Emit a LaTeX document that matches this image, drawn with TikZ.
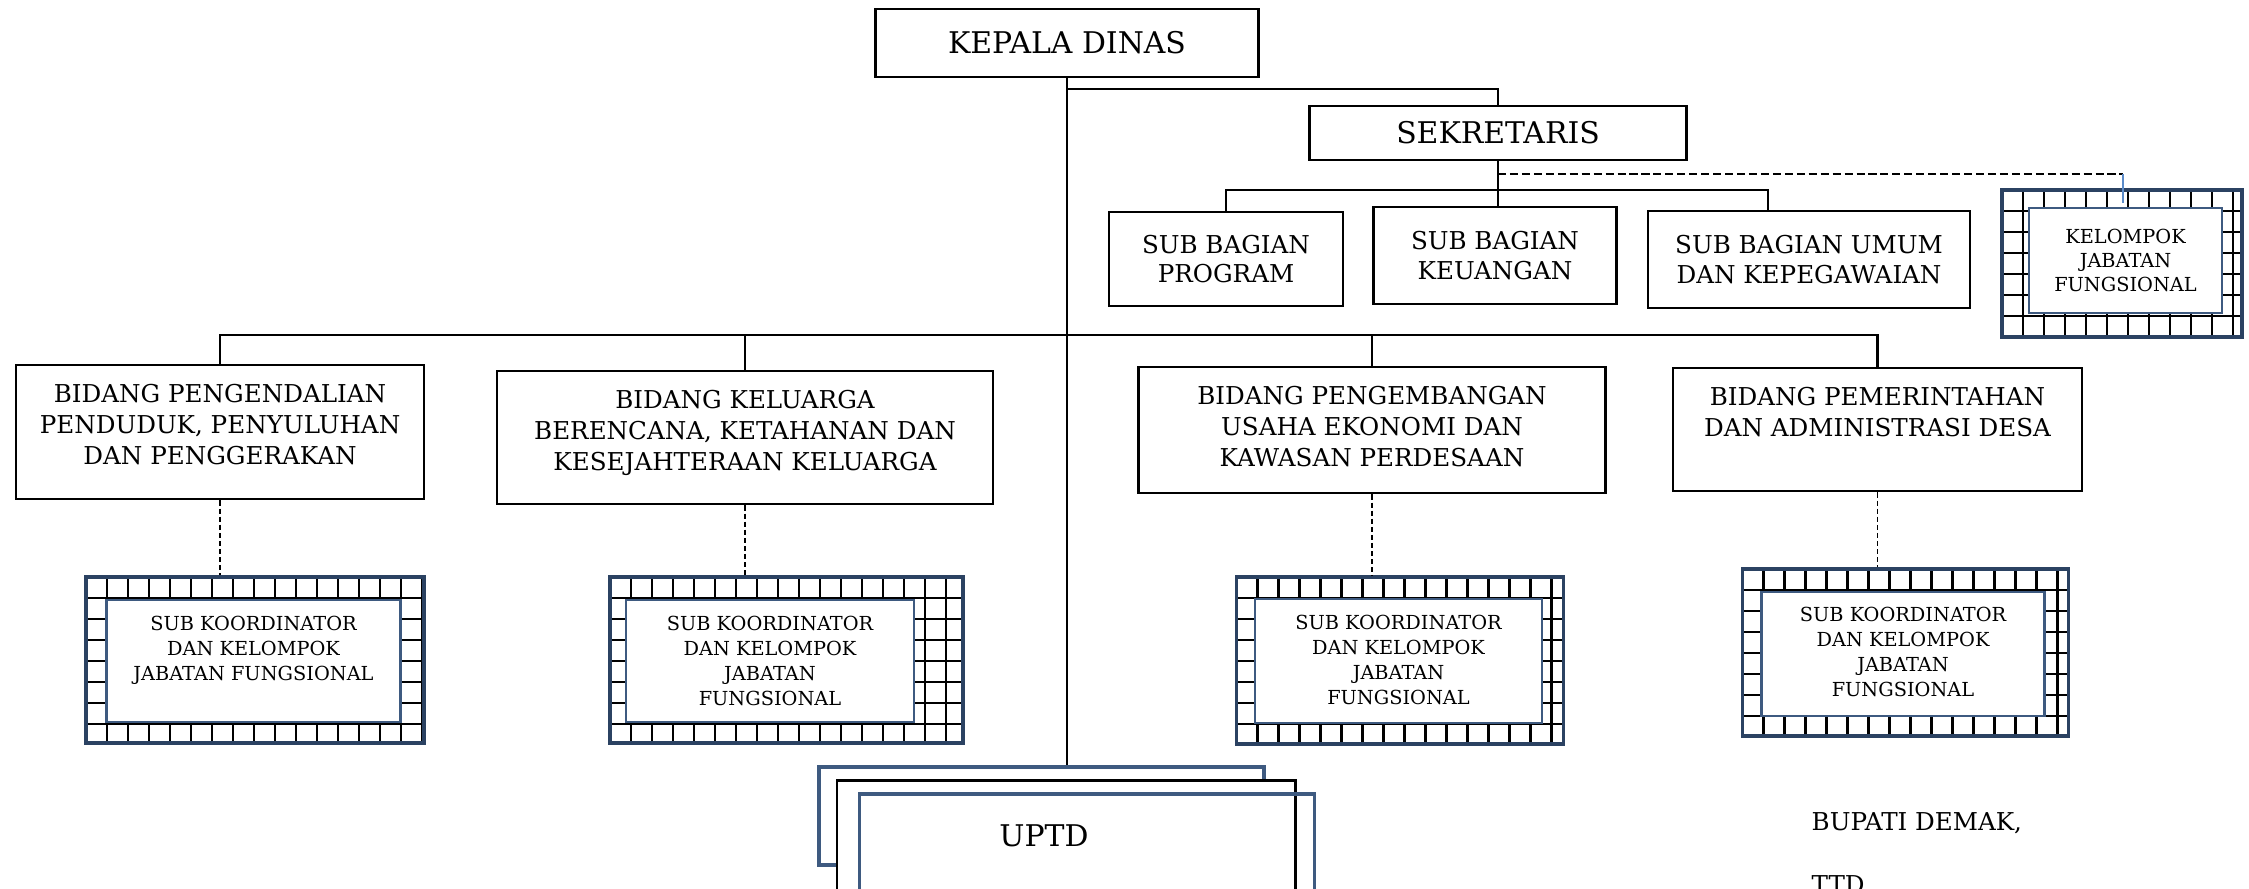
\documentclass[tikz,border=0pt]{standalone}
\usepackage{fontspec}
\setmainfont{DejaVu Serif}
\usepackage{tikz}
\usetikzlibrary{positioning}
\definecolor{gridnavy}{HTML}{2B4262}
\definecolor{framenavy}{HTML}{3E5A80}
\definecolor{linkblue}{HTML}{5B8BC9}

\begin{document}
\begin{tikzpicture}[
    box/.style={draw, line width=0.8pt, inner sep=0pt, align=center},
    headbox/.style={box, font=\fontsize{8.5}{10}\selectfont},
    subbox/.style={box, font=\fontsize{7}{8.3}\selectfont},
    bidtext/.style={inner sep=0pt, align=center, font=\fontsize{7}{8.8}\selectfont},
    gridbox/.style={draw=gridnavy, line width=0.9pt, path picture={
        \foreach \k in {1,...,20} {
            \draw[black, line width=0.7pt] ([xshift=\k*0.21cm]path picture bounding box.north west) -- ++(0,-3);
            \draw[black, line width=0.7pt] ([yshift=-\k*0.21cm]path picture bounding box.north west) -- ++(4,0);
        }}},
    innerbox/.style={draw=framenavy, line width=0.8pt, fill=white},
    kootext/.style={inner sep=0pt, align=center, font=\fontsize{5.5}{7.1}\selectfont},
    link/.style={line width=0.6pt},
    dotlink/.style={line width=0.45pt, dash pattern=on 1.5pt off 0.8pt}
]

% Page frame
\useasboundingbox (0,0) rectangle (22.49,-8.88);

% Kepala Dinas and Sekretaris
\node[headbox, minimum width=3.83cm, minimum height=0.68cm] (kepala) at (10.67,-0.43) {KEPALA DINAS};
\node[headbox, minimum width=3.77cm, minimum height=0.54cm] (sek) at (14.98,-1.33) {SEKRETARIS};

\coordinate (sekbus) at ([yshift=-0.11cm]kepala.south);
\draw[link] (sekbus) -- (sekbus -| sek.north) -- (sek.north);

% Sub bagian under Sekretaris
\node[subbox, minimum width=2.34cm, minimum height=0.94cm] (sbprog) at (12.26,-2.59) {SUB BAGIAN\\PROGRAM};
\node[subbox, minimum width=2.43cm, minimum height=0.97cm] (sbkeu) at (14.95,-2.555) {SUB BAGIAN\\KEUANGAN};
\node[subbox, minimum width=3.22cm, minimum height=0.97cm] (sbumum) at (18.09,-2.595) {SUB BAGIAN UMUM\\DAN KEPEGAWAIAN};

\coordinate (sbbus) at ([yshift=-0.29cm]sek.south);
\coordinate (umumdrop) at ([xshift=-0.41cm]sbumum.north);
\draw[link] (sek.south) -- (sek.south |- sbkeu.north);
\draw[link] (sbprog.north) -- (sbprog.north |- sbbus) -- (sbbus -| umumdrop) -- (umumdrop);

% Kelompok jabatan fungsional
\node[gridbox, minimum width=2.40cm, minimum height=1.47cm] (kjf) at (21.22,-2.635) {};
\coordinate (kjfbus) at ([yshift=-0.13cm]sek.south);
\draw[line width=0.6pt, dash pattern=on 2.3pt off 1.1pt] (kjfbus) -- (kjfbus -| 21.23,0);
\draw[linkblue, line width=0.7pt] (kjfbus -| 21.23,0) -- (21.23,-2.03);
\node[innerbox, minimum width=1.93cm, minimum height=1.05cm] (kjfin) at (21.255,-2.605) {};
\node[kootext, font=\fontsize{5.5}{6.8}\selectfont] (kjftext) at (kjfin) {KELOMPOK\\JABATAN\\FUNGSIONAL};

% Bidang row
\node[box, minimum width=4.08cm, minimum height=1.34cm] (bid1) at (2.20,-4.32) {};
\node[box, minimum width=4.96cm, minimum height=1.33cm] (bid2) at (7.45,-4.375) {};
\node[box, minimum width=4.675cm, minimum height=1.26cm] (bid3) at (13.72,-4.30) {};
\node[box, minimum width=4.09cm, minimum height=1.23cm] (bid4) at (18.775,-4.295) {};

\node[bidtext, below=0.20cm of bid1.north] (bid1text) {BIDANG PENGENDALIAN\\PENDUDUK, PENYULUHAN\\DAN PENGGERAKAN};
\node[bidtext, below=0.20cm of bid2.north] (bid2text) {BIDANG KELUARGA\\BERENCANA, KETAHANAN DAN\\KESEJAHTERAAN KELUARGA};
\node[bidtext, below=0.20cm of bid3.north] (bid3text) {BIDANG PENGEMBANGAN\\USAHA EKONOMI DAN\\KAWASAN PERDESAAN};
\node[bidtext, below=0.20cm of bid4.north] (bid4text) {BIDANG PEMERINTAHAN\\DAN ADMINISTRASI DESA};

\coordinate (bidbus) at (10.67,-3.35);
\draw[link] (bid1.north) -- (bid1.north |- bidbus) -- (bid4.north |- bidbus) -- (bid4.north);
\draw[link] (bid2.north) -- (bid2.north |- bidbus);
\draw[link] (bid3.north) -- (bid3.north |- bidbus);

% Sub koordinator boxes
\node[gridbox, minimum width=3.38cm, minimum height=1.66cm] (sk1) at (2.55,-6.60) {};
\node[gridbox, minimum width=3.53cm, minimum height=1.66cm] (sk2) at (7.865,-6.60) {};
\node[gridbox, minimum width=3.27cm, minimum height=1.67cm] (sk3) at (14.00,-6.605) {};
\node[gridbox, minimum width=3.26cm, minimum height=1.67cm] (sk4) at (19.055,-6.525) {};

\node[innerbox, minimum width=2.94cm, minimum height=1.22cm] (sk1in) at (2.535,-6.61) {};
\node[innerbox, minimum width=2.88cm, minimum height=1.22cm] (sk2in) at (7.70,-6.61) {};
\node[innerbox, minimum width=2.87cm, minimum height=1.24cm] (sk3in) at (13.985,-6.61) {};
\node[innerbox, minimum width=2.835cm, minimum height=1.24cm] (sk4in) at (19.03,-6.54) {};

\node[kootext, below=0.17cm of sk1in.north] (sk1text) {SUB KOORDINATOR\\DAN KELOMPOK\\JABATAN FUNGSIONAL};
\node[kootext, below=0.17cm of sk2in.north] (sk2text) {SUB KOORDINATOR\\DAN KELOMPOK\\JABATAN\\FUNGSIONAL};
\node[kootext, below=0.17cm of sk3in.north] (sk3text) {SUB KOORDINATOR\\DAN KELOMPOK\\JABATAN\\FUNGSIONAL};
\node[kootext, below=0.16cm of sk4in.north] (sk4text) {SUB KOORDINATOR\\DAN KELOMPOK\\JABATAN\\FUNGSIONAL};

\foreach \i in {1,...,4} {
    \draw[dotlink] (bid\i.south) -- (bid\i.south |- sk\i.north);
}

% UPTD stack
\node[innerbox, line width=0.9pt, minimum width=4.45cm, minimum height=0.98cm] (uptdback) at (10.415,-8.16) {};
\node[draw, fill=white, line width=0.7pt, minimum width=4.585cm, minimum height=2cm] (uptdmid) at (10.66,-8.807) {};
\node[draw=framenavy, line width=0.9pt, minimum width=4.55cm, minimum height=2cm] (uptdfront) at (10.873,-8.94) {};
\node[font=\fontsize{8.5}{10}\selectfont] (uptd) at (10.44,-8.36) {UPTD};

\draw[link, line width=0.7pt] (kepala.south) -- (kepala.south |- uptdback.north);

% Signature
\node[anchor=base west, inner sep=0pt, font=\fontsize{7}{8}\selectfont] (bupati) at (18.11,-8.30) {BUPATI DEMAK,};
\node[anchor=base west, inner sep=0pt, font=\fontsize{7}{8}\selectfont] (ttd) at ([yshift=-0.63cm]bupati.base west) {TTD};

\end{tikzpicture}
\end{document}
